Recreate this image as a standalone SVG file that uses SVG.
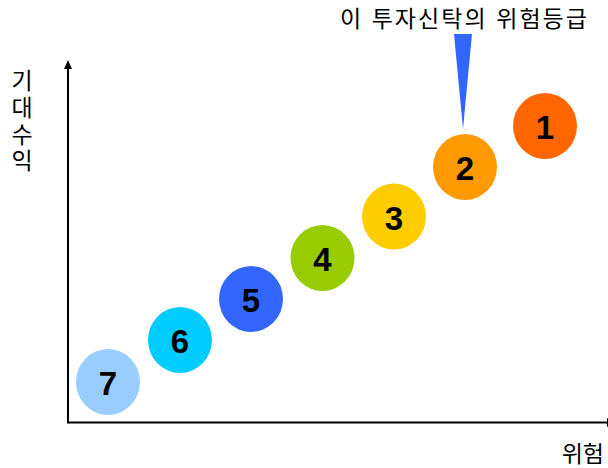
<svg xmlns="http://www.w3.org/2000/svg" width="608" height="468" viewBox="0 0 608 468">
<style>
.num{font-family:"Liberation Sans",Arial,sans-serif;font-weight:bold;font-size:33px;fill:#000;text-anchor:middle}
.lbl{font-family:"Liberation Sans","Noto Sans CJK KR",sans-serif;font-size:23px;fill:#000}
.axis{stroke:#000;stroke-width:2;fill:none}
</style>
<rect width="608" height="468" fill="#fff"/>
<g id="connectors">
<line class="axis" x1="68" y1="66" x2="68" y2="423"/>
<polygon points="68,60 64,69 72,69" fill="#000"/>
<line class="axis" x1="67" y1="422.5" x2="610" y2="422.5"/>
<polygon points="607,418 616,422.5 607,427" fill="#000"/>
<polygon id="pointer" points="454,34 472,34 463,129" fill="#3366FF"/>
</g>
<g id="title"><text class="lbl" x="340" y="27" textLength="247" lengthAdjust="spacing">이 투자신탁의 위험등급</text></g>
<g id="ylabel">
<text class="lbl" text-anchor="middle"><tspan x="22" y="89">기</tspan><tspan x="22" y="116">대</tspan><tspan x="22" y="143">수</tspan><tspan x="22" y="169">익</tspan></text>
</g>
<g id="xlabel"><text class="lbl" x="604" y="462" text-anchor="end">위험</text></g>
<g id="n7"><ellipse cx="108" cy="382" rx="32" ry="33" fill="#99CCFF"/><text class="num" x="108" y="395">7</text></g>
<g id="n6"><ellipse cx="180" cy="340" rx="32" ry="33" fill="#00CCFF"/><text class="num" x="180" y="353">6</text></g>
<g id="n5"><ellipse cx="251" cy="299" rx="32" ry="33" fill="#3366FF"/><text class="num" x="251" y="312">5</text></g>
<g id="n4"><ellipse cx="322.5" cy="258" rx="32" ry="33" fill="#99CC00"/><text class="num" x="322.5" y="271">4</text></g>
<g id="n3"><ellipse cx="394" cy="216.5" rx="32" ry="33" fill="#FFCC00"/><text class="num" x="394" y="229.5">3</text></g>
<g id="n2"><ellipse cx="465" cy="167" rx="32" ry="33" fill="#FF9900"/><text class="num" x="465" y="180">2</text></g>
<g id="n1"><ellipse cx="545" cy="126" rx="32" ry="33" fill="#FF6600"/><text class="num" x="545" y="139">1</text></g>
</svg>
